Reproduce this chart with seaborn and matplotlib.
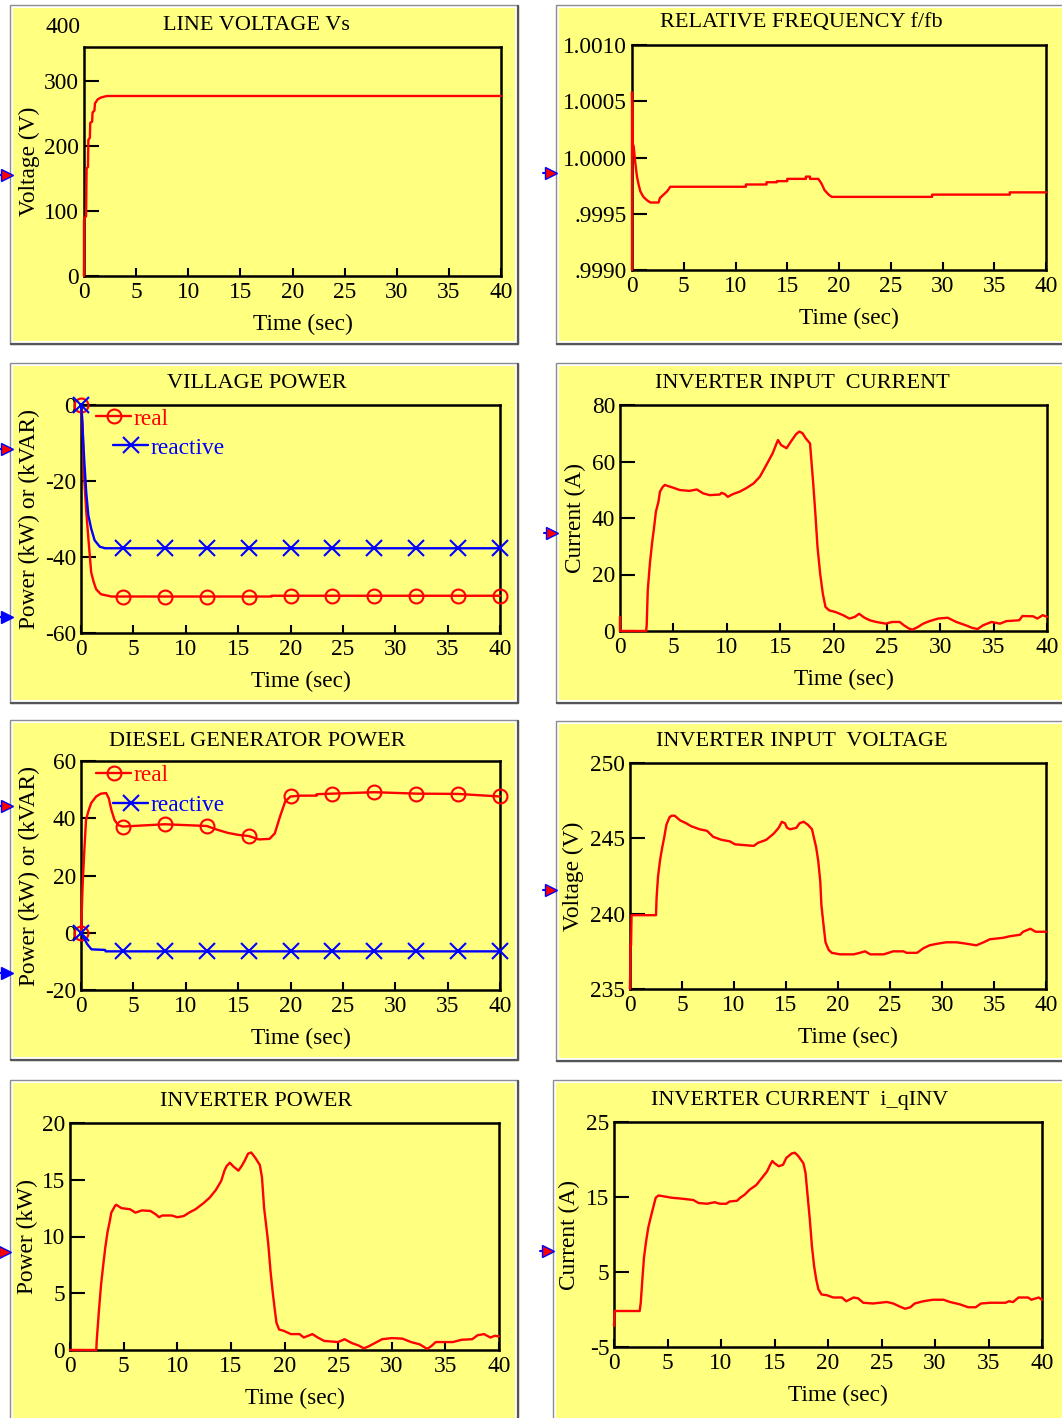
import numpy as np
import matplotlib
matplotlib.use("Agg")
import matplotlib.pyplot as plt
import seaborn as sns
from matplotlib.patches import Rectangle
from matplotlib.lines import Line2D

# ---------------- data ----------------
x_ticks = [0, 5, 10, 15, 20, 25, 30, 35, 40]
marker_times = [0, 4, 8, 12, 16, 20, 24, 28, 32, 36, 40]

# 1 line voltage Vs
vs_t = [0, 0.0, 0.05, 0.2, 0.25, 0.38, 0.42, 0.56, 0.6, 0.78, 0.82, 1.0, 1.05, 1.3, 1.6, 2.2, 40]
vs_v = [0, 85, 90, 92, 166, 168, 210, 213, 236, 238, 252, 255, 266, 272, 275, 277.5, 277.5]

# 2 relative frequency f/fb
fr_t = [0, 0, 0.08, 0.16, 0.32, 0.48, 0.64, 0.8, 1.1, 1.45,
        1.77, 2.57, 2.7, 3.05, 3.4, 3.7, 11.0, 11.0, 13.0, 13.0,
        14.0, 14.0, 15.0, 15.0, 16.8, 16.8, 17.2, 17.2, 18.0, 18.3,
        18.6, 19.0, 19.3, 29.0, 29.0, 36.5, 36.5, 40.0]
fr_v = [0.9990, 1.00058, 1.00012, 1.00010, 0.99995, 0.99983, 0.99976, 0.99970, 0.99965, 0.99962,
        0.99960, 0.99960, 0.99964, 0.99967, 0.99970, 0.99974, 0.99974, 0.99976, 0.99976, 0.99978,
        0.99978, 0.99979, 0.99979, 0.99981, 0.99981, 0.99983, 0.99983, 0.99981, 0.99981, 0.99977,
        0.99971, 0.99967, 0.99965, 0.99965, 0.99967, 0.99967, 0.99969, 0.99969]

# 3 village power
vp_t = [0, 0.16, 0.3, 0.5, 0.7, 0.97, 1.2, 1.45, 1.9, 2.9, 4, 8, 12, 16, 18.2, 18.2, 20, 24, 28, 32, 36, 40]
vp_real = [0, -6, -19, -28, -35, -44, -46.5, -48.5, -49.8, -50.4, -50.4, -50.4, -50.4, -50.4, -50.4,
           -50.2, -50.2, -50.2, -50.2, -50.2, -50.2, -50.2]
vq_t = [0, 0.1, 0.2, 0.32, 0.5, 0.7, 0.97, 1.3, 1.8, 2.3, 4, 8, 12, 16, 20, 24, 28, 32, 36, 40]
vq_reactive = [0, -3, -9, -15, -23, -29, -32.5, -35.6, -37.3, -37.7,
               -37.7, -37.7, -37.7, -37.7, -37.7, -37.7, -37.7, -37.7, -37.7, -37.7]

# 4 inverter input current
ic_t = [0, 0, 0.05, 2.45, 2.5, 2.6, 2.8, 3.0, 3.2, 3.36,
        3.6, 3.74, 4.0, 4.2, 4.5, 5.0, 5.6, 6.5, 7.2, 7.8,
        8.4, 9.35, 9.5, 9.8, 10.1, 10.6, 11.2, 11.8, 12.5, 13.1,
        13.7, 14.3, 14.6, 14.8, 15.1, 15.6, 16.0, 16.5, 16.8, 17.1,
        17.4, 17.8, 17.9, 18.1, 18.3, 18.5, 18.75, 19.0, 19.25, 19.6,
        20.2, 20.9, 21.5, 22.0, 22.4, 22.9, 23.4, 24.0, 24.9, 25.5,
        26.2, 26.6, 27.1, 27.4, 27.9, 28.4, 29.0, 29.8, 30.7, 31.5,
        32.4, 33.0, 33.5, 34.0, 34.8, 35.6, 36.2, 37.4, 37.7, 38.7,
        39.1, 39.6, 40.0]
ic_v = [5, 0, 0, 0, 2, 14.4, 23.9, 31, 36.9, 42.2,
        45.7, 49.3, 51, 51.7, 51.3, 50.7, 49.9, 49.6, 50.1, 48.7,
        48.1, 48.3, 48.9, 48.5, 47.5, 48.5, 49.3, 50.5, 52.2, 54.6,
        58.7, 62.9, 65.8, 67.6, 65.8, 64.7, 67, 69.7, 70.6, 70,
        68.2, 66.4, 61.7, 52.2, 41.6, 29.8, 20.3, 13.2, 8.5, 7.3,
        6.7, 5.6, 4.4, 5, 6.1, 4.7, 3.8, 3.2, 2.6, 3.2,
        3.2, 2.0, 0.8, 0.5, 1.4, 2.6, 3.5, 4.4, 4.7, 3.2,
        2.0, 1.1, 0.7, 2.0, 3.2, 2.6, 3.5, 3.8, 5.3, 5.2,
        4.4, 5.6, 5.0]

# 5 diesel generator power
dg_t = [0, 0.05, 0.16, 0.32, 0.48, 0.7, 0.97, 1.45, 1.9, 2.4,
        2.65, 2.9, 3.2, 3.55, 4, 8, 10, 12, 13, 14,
        15, 16, 17, 18, 18.5, 19, 19.5, 20, 21, 22.5,
        22.5, 24, 28, 32, 36, 40]
dg_real = [0, 5, 17, 29, 39.4, 42.4, 45.3, 47.6, 48.6, 48.8,
           47, 42.9, 39.4, 37.6, 37.1, 37.9, 37.6, 37.3, 36, 34.9,
           34.2, 33.8, 32.6, 32.8, 34.7, 40.6, 45.9, 47.6, 47.9, 47.9,
           48.4, 48.6, 49.1, 48.6, 48.5, 47.6]
dq_t = [0, 0.3, 0.6, 1.0, 2.3, 2.35, 4, 8, 12, 16, 20, 24, 28, 32, 36, 40]
dq_reactive = [0, -2, -4, -5.8, -6.0, -6.5, -6.5, -6.5, -6.5, -6.5, -6.5, -6.5, -6.5, -6.5, -6.5, -6.5]

# 6 inverter input voltage
iv_t = [0, 0.05, 0.1, 0.15, 2.5, 2.56, 2.7, 2.9, 3.1, 3.3,
        3.5, 3.8, 4.0, 4.3, 4.8, 5.4, 5.9, 6.7, 7.4, 8.0,
        8.8, 9.6, 10.1, 11.9, 12.3, 13.1, 13.8, 14.3, 14.6, 14.9,
        15.1, 15.4, 16.0, 16.3, 16.7, 17.1, 17.5, 17.7, 17.9, 18.1,
        18.3, 18.4, 18.6, 18.8, 19.1, 19.4, 20.2, 21.5, 22.1, 22.6,
        23.1, 24.4, 25.3, 26.3, 26.6, 27.6, 28.2, 28.8, 29.5, 30.4,
        31.4, 32.4, 33.3, 34.0, 34.6, 35.9, 36.5, 37.5, 37.8, 38.5,
        39.0, 39.4, 40.0]
iv_v = [235, 238, 237.9, 239.9, 239.9, 241.1, 242.5, 243.6, 244.4, 245.1,
        245.9, 246.4, 246.5, 246.5, 246.2, 246.0, 245.8, 245.6, 245.5, 245.1,
        244.9, 244.8, 244.6, 244.5, 244.7, 244.9, 245.3, 245.7, 246.1, 246.0,
        245.7, 245.6, 245.7, 246.0, 246.1, 245.9, 245.6, 245.0, 244.4, 243.5,
        242.1, 240.6, 239.3, 238.1, 237.6, 237.4, 237.3, 237.3, 237.4, 237.5,
        237.3, 237.3, 237.5, 237.5, 237.4, 237.4, 237.7, 237.9, 238.0, 238.1,
        238.1, 238.0, 237.9, 238.1, 238.3, 238.4, 238.5, 238.6, 238.8, 239.0,
        238.8, 238.8, 238.8]

# 7 inverter power
ip_t = [0, 2.45, 2.5, 2.7, 2.9, 3.1, 3.3, 3.5, 3.7, 3.85,
        4.2, 4.3, 4.8, 5.6, 6.1, 6.7, 7.5, 8.0, 8.3, 8.6,
        9.5, 10.0, 10.6, 11.1, 11.7, 12.4, 13.0, 13.6, 14.1, 14.4,
        14.6, 14.9, 15.2, 15.7, 16.0, 16.3, 16.6, 16.9, 17.3, 17.7,
        17.9, 18.1, 18.4, 18.5, 18.7, 18.9, 19.1, 19.25, 19.5, 19.9,
        20.6, 21.4, 21.8, 22.6, 23.1, 23.7, 25.0, 25.6, 26.3, 26.9,
        27.4, 27.8, 28.5, 29.1, 30.0, 31.0, 31.8, 32.6, 33.3, 33.7,
        34.1, 35.7, 36.5, 37.5, 38.0, 38.6, 39.2, 39.6, 40.0]
ip_v = [0, 0, 0.95, 3.5, 5.8, 7.5, 9.1, 10.4, 11.3, 12.1,
        12.7, 12.8, 12.5, 12.4, 12.1, 12.3, 12.25, 11.95, 11.7, 11.85,
        11.85, 11.7, 11.8, 12.1, 12.4, 12.9, 13.4, 14.1, 14.9, 15.8,
        16.2, 16.5, 16.2, 15.8, 16.2, 16.7, 17.3, 17.4, 16.9, 16.3,
        15.2, 12.5, 10.1, 9.2, 6.9, 5.1, 3.5, 2.4, 1.8, 1.7,
        1.4, 1.4, 1.1, 1.4, 1.1, 0.8, 0.7, 0.95, 0.6, 0.4,
        0.15, 0.3, 0.65, 0.95, 1.05, 1.0, 0.7, 0.5, 0.1, 0.35,
        0.7, 0.7, 0.9, 0.95, 1.3, 1.4, 1.1, 1.25, 1.2]

# 8 inverter current i_qINV
iq_t = [0, 0.05, 0.1, 2.4, 2.5, 2.65, 2.8, 3.0, 3.2, 3.45,
        3.7, 3.9, 4.15, 4.6, 5.4, 6.2, 7.4, 7.9, 8.7, 9.4,
        9.9, 10.5, 10.8, 11.5, 11.8, 12.2, 12.7, 13.3, 13.8, 14.3,
        14.6, 14.8, 15.0, 15.4, 15.8, 16.1, 16.6, 16.9, 17.2, 17.7,
        17.9, 18.1, 18.3, 18.5, 18.7, 18.9, 19.1, 19.4, 19.9, 20.5,
        21.3, 21.7, 22.4, 22.8, 23.3, 24.2, 25.5, 26.1, 26.7, 27.2,
        27.7, 28.1, 28.9, 29.8, 30.8, 31.4, 32.3, 33.1, 33.8, 34.3,
        35.2, 36.6, 36.9, 37.3, 37.8, 38.7, 39.0, 39.7, 40.0]
iq_v = [-2.2, -0.2, -0.2, -0.2, 0.9, 4.0, 6.9, 9.1, 10.9, 12.4,
        13.8, 14.9, 15.2, 15.1, 14.9, 14.8, 14.6, 14.2, 14.1, 14.3,
        14.1, 14.1, 14.4, 14.5, 14.9, 15.3, 16.0, 16.6, 17.5, 18.4,
        19.3, 19.8, 19.5, 19.1, 19.3, 20.2, 20.8, 20.9, 20.5, 19.5,
        18.2, 15.1, 12.0, 8.4, 5.8, 4.0, 2.7, 2.0, 1.9, 1.6,
        1.6, 1.1, 1.6, 1.5, 0.9, 0.8, 1.0, 0.8, 0.4, 0.1,
        0.3, 0.8, 1.1, 1.3, 1.3, 1.0, 0.7, 0.3, 0.3, 0.8,
        0.9, 0.9, 1.1, 1.0, 1.6, 1.6, 1.3, 1.6, 1.3]

titles = ["LINE VOLTAGE Vs", "RELATIVE FREQUENCY f/fb", "VILLAGE POWER",
          "INVERTER INPUT  CURRENT", "DIESEL GENERATOR POWER", "INVERTER INPUT  VOLTAGE",
          "INVERTER POWER", "INVERTER CURRENT  i_qINV"]
ylabels = ["Voltage (V)", "", "Power (kW) or (kVAR)", "Current (A)",
           "Power (kW) or (kVAR)", "Voltage (V)", "Power (kW)", "Current (A)"]
y_limits = [(0, 353), (0.9990, 1.0010), (-60, 0), (0, 80), (-20, 60), (235, 250), (0, 20), (-5, 25)]
y_tick_values = [[0, 100, 200, 300], [0.9990, 0.9995, 1.0000, 1.0005, 1.0010], [-60, -40, -20, 0],
                 [0, 20, 40, 60, 80], [-20, 0, 20, 40, 60], [235, 240, 245, 250],
                 [0, 5, 10, 15, 20], [-5, 5, 15, 25]]
y_tick_labels = [["0", "100", "200", "300"], [".9990", ".9995", "1.0000", "1.0005", "1.0010"],
                 ["-60", "-40", "-20", "0"], ["0", "20", "40", "60", "80"],
                 ["-20", "0", "20", "40", "60"], ["235", "240", "245", "250"],
                 ["0", "5", "10", "15", "20"], ["-5", "5", "15", "25"]]
extra_label_value = 400
legend_labels = ["real", "reactive"]

# ---------------- layout (pixels) ----------------
W, H = 1062, 1418
frames = [(10, 5, 518, 344), (556, 5, 1066, 344),
          (10, 363, 518, 703), (556, 363, 1066, 703),
          (10, 720, 518, 1060), (556, 721, 1066, 1061),
          (10, 1080, 518, 1422), (553, 1080, 1066, 1422)]
boxes = [(84, 47, 501, 276), (632, 45, 1046, 270),
         (81, 405, 500, 633), (620, 405, 1047, 631),
         (81, 761, 500, 990), (630, 763, 1046, 989),
         (70, 1123, 499, 1350), (614, 1122, 1042, 1347)]
title_pos = [(256, 26), (801, 23), (257, 384), (802, 383), (257, 741), (802, 742), (256, 1101), (800, 1101)]
ylabel_x = [29, None, 29, 575, 29, 573, 27, 569]
arrows = [(5, 175, 'red'), (549, 173, 'red'), (5, 449, 'red'), (5, 617, 'blue'),
          (550, 533, 'red'), (5, 806, 'red'), (5, 973, 'blue'), (549, 890, 'red'),
          (3, 1252, 'red'), (546, 1251, 'red')]
legend_pos = {2: [(96, 419), (113, 448)], 4: [(96, 775), (113, 805)]}

YELLOW = "#FFFF80"
FS_TITLE = 16
FS = 16.8
LW = 1.7

sns.set_theme(style="white")
plt.rcParams["font.family"] = ["Liberation Serif", "DejaVu Serif"]
plt.rcParams["axes.unicode_minus"] = False

fig = plt.figure(figsize=(W / 100, H / 100), dpi=100)
fig.patch.set_facecolor("white")


def fx(p):
    return p / W


def fy(p):
    return 1 - p / H


def line(ax, t, v, color, marker=None, ms=10):
    t = np.asarray(t, dtype=float)
    v = np.asarray(v, dtype=float)
    kws = dict(x=t, y=v, ax=ax, color=color, linewidth=LW, estimator=None,
               sort=False, legend=False, zorder=3, clip_on=False)
    if marker is not None:
        idx = [int(i) for i in np.flatnonzero(np.isin(t, marker_times))]
        kws.update(marker=marker, markevery=idx, markersize=ms, markerfacecolor="none",
                   markeredgecolor=color, markeredgewidth=1.5)
    sns.lineplot(**kws)


series = [
    [(vs_t, vs_v, "red", None)],
    [(fr_t, fr_v, "red", None)],
    [(vp_t, vp_real, "red", "o"), (vq_t, vq_reactive, "blue", "x")],
    [(ic_t, ic_v, "red", None)],
    [(dg_t, dg_real, "red", "o"), (dq_t, dq_reactive, "blue", "x")],
    [(iv_t, iv_v, "red", None)],
    [(ip_t, ip_v, "red", None)],
    [(iq_t, iq_v, "red", None)],
]

for i in range(8):
    x0, y0, x1, y1 = frames[i]
    fig.add_artist(Rectangle((fx(x0), fy(y1)), fx(x1) - fx(x0), fy(y0) - fy(y1),
                             transform=fig.transFigure, facecolor="white",
                             edgecolor="#8c8c8c", linewidth=1.0, zorder=-2))
    # darker shadow edge on right and bottom
    fig.add_artist(Line2D([fx(x0 + 1), fx(x1), fx(x1)], [fy(y1), fy(y1), fy(y0 + 1)],
                          transform=fig.transFigure, color="#555555", linewidth=1.6, zorder=-2))
    fig.add_artist(Rectangle((fx(x0 + 3), fy(y1 - 3)), fx(x1 - 3) - fx(x0 + 3), fy(y0 + 3) - fy(y1 - 3),
                             transform=fig.transFigure, facecolor=YELLOW,
                             edgecolor="none", zorder=-1))
    a0, b0, a1, b1 = boxes[i]
    ax = fig.add_axes([fx(a0), fy(b1), fx(a1) - fx(a0), fy(b0) - fy(b1)])
    ax.set_facecolor(YELLOW)
    axw, axh = a1 - a0, b1 - b0

    for (t, v, c, m) in series[i]:
        line(ax, t, v, c, m, ms=10 if m == "o" else 12)

    ax.set_xlim(0, 40)
    ax.set_ylim(*y_limits[i])
    ax.set_xticks(x_ticks)
    ax.set_xticklabels([str(x) for x in x_ticks])
    ax.set_yticks(y_tick_values[i])
    ax.set_yticklabels(y_tick_labels[i])
    ax.tick_params(axis="y", direction="in", length=11, width=1.5, pad=3.5,
                   labelsize=FS, left=True, right=False, colors="black")
    ax.tick_params(axis="x", direction="in", length=6, width=1.5, pad=4,
                   labelsize=FS, bottom=True, top=False, colors="black")
    for sp in ax.spines.values():
        sp.set_visible(True)
        sp.set_color("black")
        sp.set_linewidth(1.8)
        sp.set_zorder(2.5)

    ax.set_xlabel("Time (sec)", fontsize=FS, color="black")
    ax.xaxis.set_label_coords(0.5 + 10 / axw, -48 / axh)
    ax.xaxis.label.set_verticalalignment("center")
    if ylabel_x[i] is not None:
        ax.set_ylabel(ylabels[i], fontsize=FS, color="black")
        ax.yaxis.set_label_coords((ylabel_x[i] - a0) / axw, 0.5)
        ax.yaxis.label.set_verticalalignment("center")
    else:
        ax.set_ylabel("")

    if i == 0:
        ax.text(-3.5 / axw, extra_label_value, str(extra_label_value), transform=ax.get_yaxis_transform(),
                ha="right", va="top", fontsize=FS, color="black", clip_on=False)

    if i in legend_pos:
        handles = []
        for (t, v, c, m) in series[i]:
            handles.append(Line2D([], [], color=c, linewidth=LW, marker=m,
                                  markersize=10 if m == "o" else 12, markerfacecolor="none",
                                  markeredgecolor=c, markeredgewidth=1.5))
        legs = []
        for k, (h, lab) in enumerate(zip(handles, legend_labels)):
            px, py = legend_pos[i][k]
            leg = ax.legend(handles=[h], labels=[lab], loc="center left",
                            bbox_to_anchor=(fx(px), fy(py)), bbox_transform=fig.transFigure,
                            frameon=False, borderpad=0, borderaxespad=0, handlelength=1.5,
                            handletextpad=0.1, fontsize=FS, labelcolor=[h.get_color()])
            legs.append(leg)
        ax.add_artist(legs[0])

    tx, ty = title_pos[i]
    fig.text(fx(tx), fy(ty), titles[i], ha="center", va="center", fontsize=FS_TITLE, color="black")

for (ax_, ay_, col) in arrows:
    fig.add_artist(Line2D([fx(ax_ - 6), fx(ax_ + 2)], [fy(ay_), fy(ay_)], transform=fig.transFigure,
                          color="blue", linewidth=1.5))
    fig.add_artist(Line2D([fx(ax_ + 2)], [fy(ay_)], transform=fig.transFigure, marker=">",
                          markersize=8, markerfacecolor=col, markeredgecolor="blue",
                          markeredgewidth=1.0, linestyle="none"))

fig.savefig("out.png", dpi=100, facecolor="white")
